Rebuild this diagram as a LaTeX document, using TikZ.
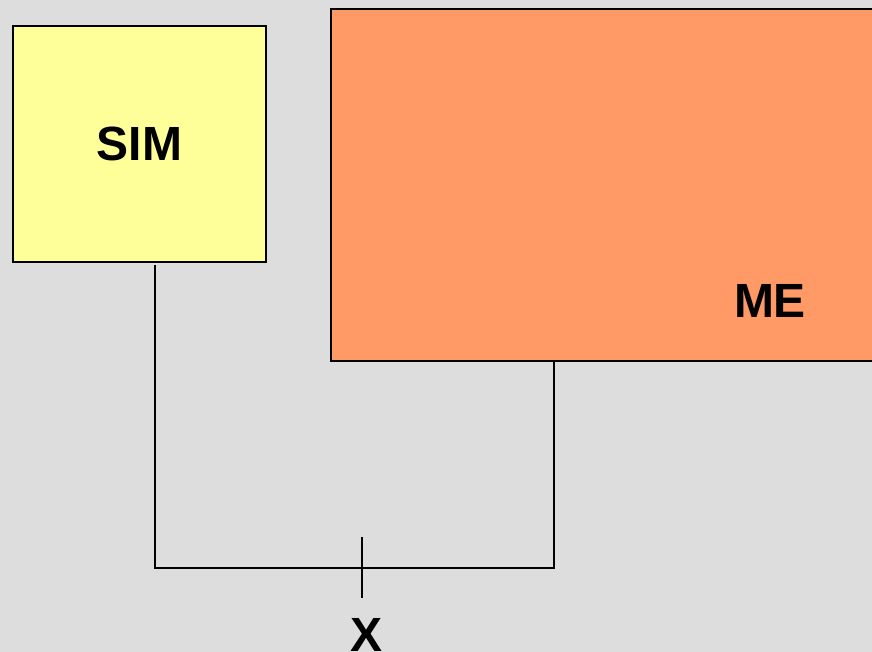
\documentclass[tikz,border=0pt]{standalone}
\usepackage{fontspec}
\setmainfont{Liberation Sans}
\begin{document}
\begin{tikzpicture}[x=1pt,y=-1pt,
  lbl/.style={font=\fontsize{48}{52}\selectfont\bfseries, inner sep=0pt},
  wire/.style={line width=1.8pt, black},
  box/.style={draw=black, line width=1.8pt, inner sep=0pt}]
\fill[fill={rgb,255:red,221;green,221;blue,221}] (0,0) rectangle (872,652);
\useasboundingbox (0,0) rectangle (872,652);
\node[box, fill={rgb,255:red,255;green,255;blue,153}, minimum width=253pt, minimum height=236pt, anchor=north west, lbl] (sim) at (12,25) {SIM};
\node[box, fill={rgb,255:red,255;green,153;blue,102}, minimum width=560pt, minimum height=352pt, anchor=north west] (me) at (330,8) {};
\node[lbl] (melbl) at (770,301) {ME};
\node[lbl] (xlbl) at (367,635) {X};
\coordinate (a) at (155,265);
\coordinate (b) at (155,568);
\coordinate (c) at (554,568);
\coordinate (d) at (554,361);
\coordinate (t1) at (362,537);
\coordinate (t2) at (362,598);
\draw[wire] (a) -- (b) -- (c) -- (d);
\draw[wire] (t1) -- (t2);
\end{tikzpicture}
\end{document}
